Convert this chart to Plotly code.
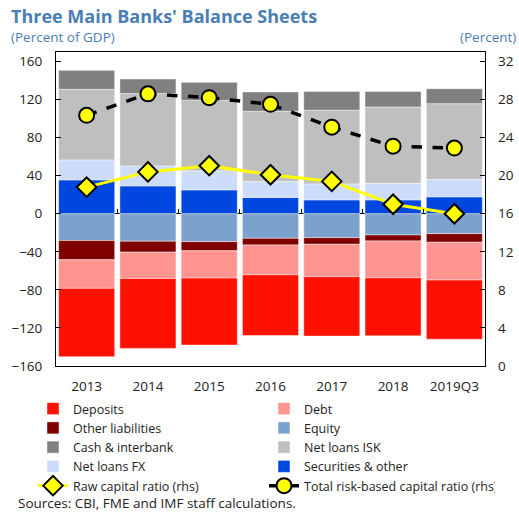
import plotly.graph_objects as go

years = ["2013", "2014", "2015", "2016", "2017", "2018", "2019Q3"]

# Assets (positive, percent of GDP)
securities = [35.6, 29.3, 25.1, 17.1, 14.6, 14.6, 17.8]
loans_fx = [21.0, 21.0, 20.0, 16.7, 16.8, 17.4, 18.1]
loans_isk = [74.2, 76.0, 74.0, 73.9, 77.4, 80.2, 79.8]
cash = [19.9, 15.3, 19.0, 20.3, 19.8, 16.4, 15.7]

# Liabilities (negative, percent of GDP)
equity = [-28.2, -28.9, -29.3, -25.8, -25.1, -22.3, -20.9]
other_liab = [-20.2, -11.5, -9.7, -7.0, -7.0, -6.3, -9.1]
debt = [-30.0, -27.6, -28.6, -31.3, -34.1, -38.7, -39.7]
deposits = [-71.8, -73.5, -70.4, -63.8, -62.4, -61.0, -62.1]

# Ratios (percent, rhs)
raw_ratio = [18.8, 20.4, 21.05, 20.1, 19.4, 17.0, 16.0]
total_ratio = [26.35, 28.6, 28.2, 27.5, 25.1, 23.1, 22.9]

left_ticks = [-160, -120, -80, -40, 0, 40, 80, 120, 160]
right_ticks = [0, 4, 8, 12, 16, 20, 24, 28, 32]

FONT = "Open Sans"
TXT = "#222222"
TITLE_C = "#4a7eb4"

fig = go.Figure()

def bar(name, vals, color, rank):
    fig.add_trace(go.Bar(
        x=years, y=vals, name=name, legendrank=rank,
        marker=dict(color=color, line=dict(color="rgba(255,255,255,0.45)", width=1)),
    ))

# stacking order: positives from zero upward, negatives from zero downward
bar("Securities & other", securities, "#0047e0", 8)
bar("Net loans FX", loans_fx, "#cddcfa", 7)
bar("Net loans ISK", loans_isk, "#bfbfbf", 6)
bar("Cash & interbank", cash, "#808080", 5)
bar("Equity", equity, "#7ba2cd", 4)
bar("Other liabilities", other_liab, "#800000", 3)
bar("Debt", debt, "#ff9490", 2)
bar("Deposits", deposits, "#ff1100", 1)

fig.add_trace(go.Scatter(
    x=years, y=raw_ratio, name="Raw capital ratio (rhs)", yaxis="y2", legendrank=9,
    mode="lines+markers",
    line=dict(color="#ffff00", width=3),
    marker=dict(symbol="diamond", size=15, color="#ffff00", line=dict(color="#000000", width=2)),
))
fig.add_trace(go.Scatter(
    x=years, y=total_ratio, name="Total risk-based capital ratio (rhs)", yaxis="y2", legendrank=10,
    mode="lines+markers",
    line=dict(color="#000000", width=3.5, dash="dash"),
    marker=dict(symbol="circle", size=15, color="#ffff00", line=dict(color="#000000", width=2)),
))

# helper axis for category-boundary ticks on the zero line
n = len(years)
fig.add_trace(go.Scatter(x=[-0.5, n - 0.5], y=[None, None], xaxis="x2", yaxis="y",
                         showlegend=False, hoverinfo="skip", mode="lines"))

ymin, ymax = -160, 170
zero_frac = (0 - ymin) / (ymax - ymin)

fig.update_layout(
    width=519, height=512,
    margin=dict(l=56, r=34, t=52, b=146, autoexpand=False),
    paper_bgcolor="white", plot_bgcolor="white",
    barmode="relative", bargap=0.085,
    font=dict(family=FONT, size=13, color=TXT),
    showlegend=True,
    legend=dict(
        orientation="h", x=-23/429, xanchor="left", y=-28/314, yanchor="top",
        entrywidth=186, entrywidthmode="pixels", traceorder="normal",
        font=dict(size=12.5, color=TXT), itemwidth=30,
        tracegroupgap=0, bgcolor="rgba(0,0,0,0)", borderwidth=0,
    ),
    xaxis=dict(
        type="category", categoryorder="array", categoryarray=years,
        showline=True, mirror=True, linecolor="#000000", linewidth=1,
        ticks="", showgrid=False, tickfont=dict(size=13.5, color=TXT),
        range=[-0.5, n - 0.5], ticklabelstandoff=8,
    ),
    xaxis2=dict(
        overlaying="x", anchor="free", position=zero_frac, side="bottom",
        range=[-0.5, n - 0.5], tickvals=[i + 0.5 for i in range(n - 1)],
        ticks="inside", ticklen=5, tickcolor="#000000", tickwidth=1,
        showticklabels=False, showgrid=False, showline=False, zeroline=False,
    ),
    yaxis=dict(
        range=[ymin, ymax], tickvals=left_ticks,
        showline=True, mirror=True, linecolor="#000000", linewidth=1,
        ticks="inside", ticklen=5, tickcolor="#000000",
        showgrid=False, zeroline=True, zerolinecolor="#000000", zerolinewidth=1,
        tickfont=dict(size=13.5, color=TXT), ticklabelstandoff=10,
    ),
    yaxis2=dict(
        overlaying="y", side="right", range=[(ymin + 160) / 10, (ymax + 160) / 10],
        tickvals=right_ticks, ticks="inside", ticklen=5, tickcolor="#000000",
        showgrid=False, zeroline=False, showline=False,
        tickfont=dict(size=13.5, color=TXT), ticklabelstandoff=12,
    ),
    annotations=[
        dict(text="<b>Three Main Banks' Balance Sheets</b>", xref="paper", yref="paper",
             x=-47/429, y=1 + 36/314, xanchor="left", yanchor="middle", showarrow=False,
             font=dict(size=18, color=TITLE_C, family=FONT)),
        dict(text="(Percent of GDP)", xref="paper", yref="paper",
             x=-47/429, y=1 + 15/314, xanchor="left", yanchor="middle", showarrow=False,
             font=dict(size=13.5, color=TITLE_C, family=FONT)),
        dict(text="(Percent)", xref="paper", yref="paper",
             x=1 + 33/429, y=1 + 15/314, xanchor="right", yanchor="middle", showarrow=False,
             font=dict(size=13.5, color=TITLE_C, family=FONT)),
        dict(text="Sources: CBI, FME and IMF staff calculations.", xref="paper", yref="paper",
             x=-40/429, y=-(137/314), xanchor="left", yanchor="middle", showarrow=False,
             font=dict(size=13.5, color=TXT, family=FONT)),
    ],
)

fig.write_html("out.html", post_script="document.body.style.margin='0';",
               config={"displayModeBar": False})
